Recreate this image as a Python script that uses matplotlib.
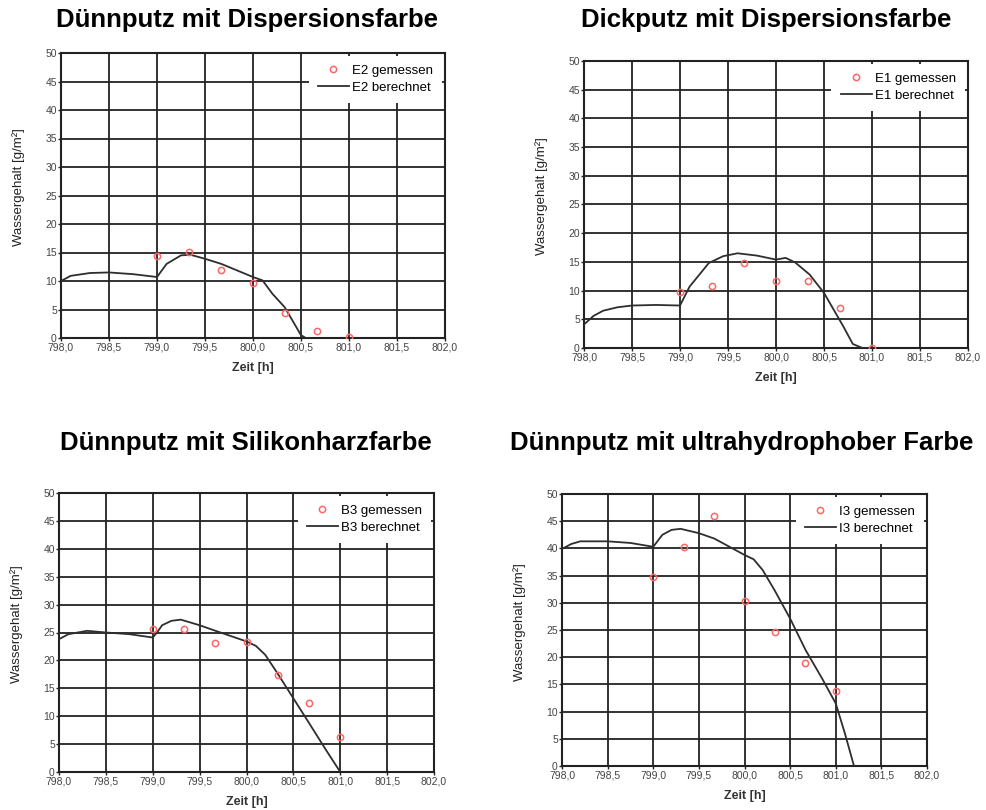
import matplotlib
matplotlib.use("Agg")
import matplotlib.pyplot as plt
from matplotlib.ticker import FuncFormatter

plt.rcParams["font.family"] = ["Liberation Sans", "DejaVu Sans"]

# Messzeitpunkte (gleich fuer alle Proben)
t_mess = [799.0, 799.333, 799.667, 800.0, 800.333, 800.667, 801.0]

# E2 - Duennputz mit Dispersionsfarbe
e2_mess = [14.4, 15.1, 12.0, 9.6, 4.4, 1.2, 0.2]
e2_t = [798.0, 798.1, 798.3, 798.5, 798.75, 799.0, 799.1, 799.25, 799.35, 799.5,
        799.67, 800.0, 800.1, 800.2, 800.33, 800.5, 800.55, 800.6]
e2_calc = [10.0, 10.9, 11.4, 11.5, 11.2, 10.7, 13.0, 14.5, 14.6, 13.9,
           13.0, 10.7, 10.1, 7.8, 5.4, 0.5, 0.0, 0.0]

# E1 - Dickputz mit Dispersionsfarbe
e1_mess = [9.7, 10.8, 14.8, 11.7, 11.7, 7.0, 0.0]
e1_t = [798.0, 798.1, 798.2, 798.35, 798.5, 798.75, 799.0, 799.1, 799.3, 799.45,
        799.6, 799.8, 800.0, 800.1, 800.2, 800.35, 800.5, 800.7, 800.8, 800.9, 801.0]
e1_calc = [4.1, 5.6, 6.5, 7.1, 7.4, 7.5, 7.4, 10.7, 14.8, 16.0,
           16.5, 16.1, 15.4, 15.7, 14.9, 12.8, 9.6, 3.8, 0.7, 0.0, 0.0]

# B3 - Duennputz mit Silikonharzfarbe
b3_mess = [25.6, 25.7, 23.2, 23.3, 17.4, 12.3, 6.3]
b3_t = [798.0, 798.1, 798.3, 798.5, 798.75, 799.0, 799.05, 799.1, 799.2, 799.3,
        799.5, 799.67, 800.0, 800.1, 800.2, 800.33, 800.5, 800.67, 800.85, 801.0]
b3_calc = [23.8, 24.7, 25.3, 25.0, 24.7, 24.1, 25.1, 26.3, 27.1, 27.3,
           26.3, 25.3, 23.4, 22.6, 21.0, 17.7, 13.2, 8.7, 3.9, 0.0]

# I3 - Duennputz mit ultrahydrophober Farbe
i3_mess = [34.8, 40.2, 45.9, 30.4, 24.7, 19.0, 13.7]
i3_t = [798.0, 798.1, 798.2, 798.5, 798.75, 799.0, 799.1, 799.2, 799.3, 799.5,
        799.67, 800.0, 800.1, 800.2, 800.33, 800.5, 800.67, 800.85, 801.0, 801.1, 801.2]
i3_calc = [39.9, 40.8, 41.3, 41.3, 41.0, 40.3, 42.5, 43.4, 43.6, 42.8,
           41.8, 38.8, 38.0, 36.0, 32.3, 27.1, 21.3, 16.1, 11.5, 6.0, 0.0]

x_ticks = [798.0, 798.5, 799.0, 799.5, 800.0, 800.5, 801.0, 801.5, 802.0]
y_ticks = list(range(0, 51, 5))

W, H = 987, 810


def komma(v, pos):
    return f"{v:.1f}".replace(".", ",")


def panel(fig, box, titel, titel_x, titel_y, name, mess, t, calc):
    l, tp, r, b = box
    ax = fig.add_axes([l / W, 1 - b / H, (r - l) / W, (b - tp) / H])
    ax.plot(t, calc, color="#2e2e2e", lw=1.3, label=name + " berechnet", zorder=3)
    ax.plot(t_mess, mess, ls="none", marker="o", ms=4.5, mfc="none", mec="#ff6666",
            mew=1.1, label=name + " gemessen", zorder=4)
    ax.set_xlim(798, 802)
    ax.set_ylim(0, 50)
    ax.set_xticks(x_ticks)
    ax.set_yticks(y_ticks)
    ax.xaxis.set_major_formatter(FuncFormatter(komma))
    ax.grid(True, color="#222222", lw=1.3)
    ax.set_axisbelow(True)
    for s in ax.spines.values():
        s.set_color("#222222")
        s.set_linewidth(1.5)
    ax.tick_params(length=2, width=1, pad=1, labelsize=7.5, colors="#222222",
                   labelcolor="#444444")
    # Achsenbeschriftungen
    fig.text((l - 42) / W, 1 - ((tp + b) / 2 - 8) / H, "Wassergehalt [g/m²]",
             rotation=90, ha="center", va="center", fontsize=9.5, color="#222222")
    fig.text(((l + r) / 2) / W, 1 - (b + 30) / H, "Zeit [h]", ha="center", va="center",
             fontsize=9, fontweight="bold", color="#333333")
    h, lb = ax.get_legend_handles_labels()
    leg = ax.legend(h[::-1], lb[::-1], loc="upper right", fontsize=9.5, frameon=True,
                    facecolor="white", edgecolor="none", framealpha=1, handlelength=2.35,
                    handletextpad=0.25, labelspacing=0.35, borderaxespad=0.2, borderpad=0.7)
    leg.set_zorder(5)
    fig.text(titel_x / W, 1 - titel_y / H, titel, ha="center", va="center",
             fontsize=18.5, fontweight="bold")
    return ax


fig = plt.figure(figsize=(W / 100, H / 100), dpi=100)

panel(fig, (61, 53, 445, 338), "Dünnputz mit Dispersionsfarbe", 247, 20,
      "E2", e2_mess, e2_t, e2_calc)
panel(fig, (584, 61, 968, 348), "Dickputz mit Dispersionsfarbe", 766, 20,
      "E1", e1_mess, e1_t, e1_calc)
panel(fig, (59, 493, 434, 772), "Dünnputz mit Silikonharzfarbe", 246, 443,
      "B3", b3_mess, b3_t, b3_calc)
panel(fig, (562, 494, 927, 766), "Dünnputz mit ultrahydrophober Farbe", 742, 443,
      "I3", i3_mess, i3_t, i3_calc)

fig.savefig("out.png", dpi=100)
